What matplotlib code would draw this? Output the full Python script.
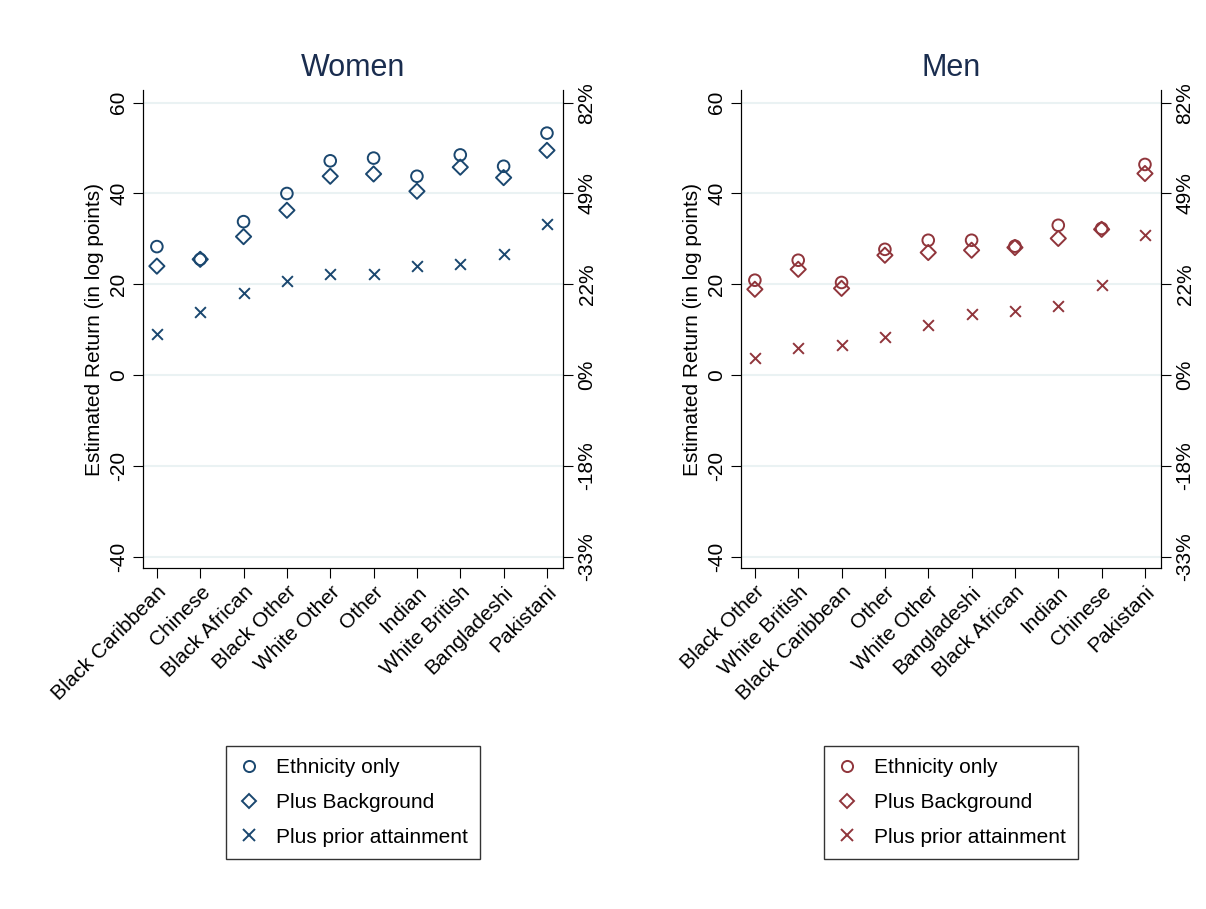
import matplotlib
matplotlib.use("Agg")
import matplotlib.pyplot as plt
import numpy as np
from matplotlib.lines import Line2D

women_cats = ["Black Caribbean","Chinese","Black African","Black Other","White Other","Other","Indian","White British","Bangladeshi","Pakistani"]
women_eth = [28.3,25.5,33.8,40.0,47.2,47.8,43.8,48.5,46.0,53.3]
women_bg = [24.0,25.5,30.5,36.3,43.8,44.3,40.5,45.8,43.5,49.5]
women_prior = [9.0,13.8,18.0,20.7,22.3,22.3,24.0,24.5,26.6,33.3]

men_cats = ["Black Other","White British","Black Caribbean","Other","White Other","Bangladeshi","Black African","Indian","Chinese","Pakistani"]
men_eth = [20.9,25.3,20.4,27.7,29.7,29.7,28.4,33.0,32.3,46.4]
men_bg = [18.9,23.3,19.1,26.4,27.0,27.5,28.1,30.1,32.1,44.4]
men_prior = [3.7,5.9,6.6,8.4,11.0,13.4,14.1,15.2,19.8,30.8]

left_ticks = [-40,-20,0,20,40,60]
right_labels = ["-33%","-18%","0%","22%","49%","82%"]

fig = plt.figure(figsize=(12.06,9.09), dpi=100)
plt.rcParams['font.family'] = ['Liberation Sans','DejaVu Sans']

def panel(left, title, cats, eth, bg, prior, color):
    ax = fig.add_axes([left, 1-568/909, 420/1206, (568-90)/909])
    x = np.arange(len(cats))
    ax.scatter(x, eth, marker='o', facecolors='none', edgecolors=color, s=70, linewidths=1.4)
    ax.scatter(x, bg, marker='D', facecolors='none', edgecolors=color, s=60, linewidths=1.4)
    ax.scatter(x, prior, marker='x', color=color, s=60, linewidths=1.4)
    ax.set_xlim(-0.32, len(cats)-1+0.37)
    ax.set_ylim(-42.5, 62.8)
    ax.set_yticks(left_ticks)
    ax.set_yticklabels([str(t) for t in left_ticks], rotation=90, va='center', fontsize=15)
    ax.set_xticks(x)
    ax.set_xticklabels(cats, rotation=45, ha='right', rotation_mode='anchor', fontsize=15)
    for t in left_ticks:
        ax.axhline(t, color='#eaf2f3', lw=1.5, zorder=0)
    ax.set_ylabel("Estimated Return (in log points)", fontsize=15)
    ax.set_title(title, fontsize=22, color='#1a2d4f', pad=10)
    ax.spines['top'].set_visible(False)
    ax.tick_params(length=7)
    ax2 = ax.twinx()
    ax2.set_ylim(ax.get_ylim())
    ax2.set_yticks(left_ticks)
    ax2.set_yticklabels(right_labels, rotation=90, va='center', fontsize=15)
    ax2.spines['top'].set_visible(False)
    ax2.tick_params(length=7)
    handles = [Line2D([],[],marker='o',ls='none',mfc='none',mec=color,ms=8,mew=1.4),
               Line2D([],[],marker='D',ls='none',mfc='none',mec=color,ms=7,mew=1.4),
               Line2D([],[],marker='x',ls='none',color=color,ms=8,mew=1.4)]
    leg = ax.legend(handles, ["Ethnicity only","Plus Background","Plus prior attainment"],
                    loc='upper center', bbox_to_anchor=(0.5, -0.372), fontsize=15,
                    fancybox=False, edgecolor='black', handlelength=1.0, handletextpad=0.8,
                    labelspacing=0.75, borderpad=0.6, borderaxespad=0)
    leg.get_frame().set_linewidth(1.0)

panel(143/1206, "Women", women_cats, women_eth, women_bg, women_prior, '#1a476f')
panel(741/1206, "Men", men_cats, men_eth, men_bg, men_prior, '#90353b')

fig.savefig("out.png", dpi=100)
